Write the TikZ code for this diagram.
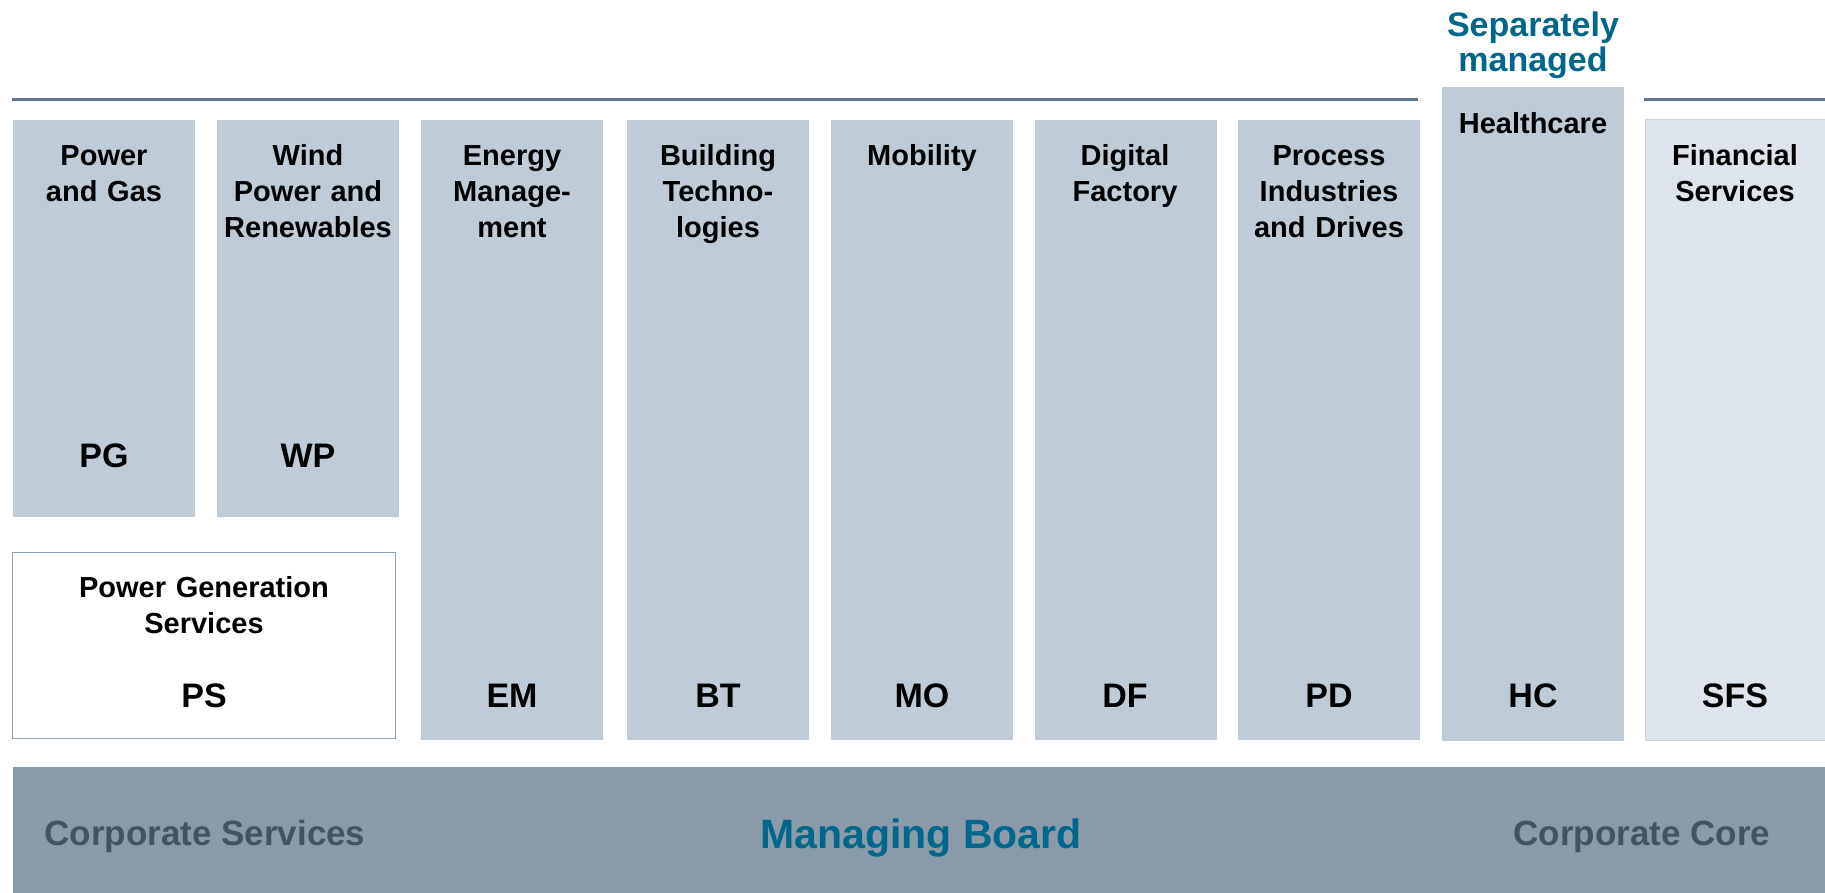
\documentclass[tikz,border=0pt]{standalone}
\usepackage{fontspec}
\setmainfont{Liberation Sans}
\definecolor{unitfill}{HTML}{BFCCD8}
\definecolor{sfsfill}{HTML}{DDE4EC}
\definecolor{sfsline}{HTML}{CAD3DE}
\definecolor{boardfill}{HTML}{899AA9}
\definecolor{rulecol}{HTML}{627789}
\definecolor{psline}{HTML}{8FA3B3}
\definecolor{corptext}{HTML}{45535F}
\definecolor{teal}{HTML}{00678A}
\tikzset{
  title/.style={anchor=base,inner sep=0pt,text width=200pt,align=center,
    font=\fontsize{29}{36}\selectfont\bfseries},
  abbr/.style={anchor=base,inner sep=0pt,font=\fontsize{34}{40}\selectfont\bfseries},
  corp/.style={anchor=base,inner sep=0pt,text=corptext,font=\fontsize{35}{40}\selectfont\bfseries}
}
\begin{document}
\begin{tikzpicture}[x=1pt,y=-1pt]
  \useasboundingbox[fill=white] (0,0) rectangle (1825,892);
  \begin{scope}
    \tikzstyle{every node}=[fill=unitfill,inner sep=0pt,minimum width=182pt]
    \node[minimum height=397pt] (PG) at (104,318.5) {};
    \node[minimum height=397pt] (WP) at (308,318.5) {};
    \node[minimum height=620pt] (EM) at (512,430) {};
    \node[minimum height=620pt] (BT) at (718,430) {};
    \node[minimum height=620pt] (MO) at (922,430) {};
    \node[minimum height=620pt] (DF) at (1125.5,430) {};
    \node[minimum height=620pt] (PD) at (1329,430) {};
    \node[minimum height=654pt] (HC) at (1533,414) {};
    \node[fill=sfsfill,draw=sfsline,line width=1.5pt,minimum width=181pt,
      minimum height=621pt] (SFS) at (1736,430) {};
    \node[fill=white,draw=psline,line width=1.5pt,minimum width=383pt,
      minimum height=186pt] (PS) at (204,645.5) {};
    \node[fill=boardfill,minimum width=1815pt,minimum height=126pt] (board) at (920.5,830) {};
  \end{scope}
  \coordinate (r1) at (12,99);
  \coordinate (r2) at (1418,99);
  \coordinate (r3) at (1644,99);
  \coordinate (r4) at (1825,99);
  \draw[rulecol,line width=3pt] (r1) -- (r2);
  \draw[rulecol,line width=3pt] (r3) -- (r4);

  \node[title] (PGt) at (104,165) {Power\\and Gas};
  \node[title] (WPt) at (308,165) {Wind\\Power and\\Renewables};
  \node[title] (EMt) at (512,165) {Energy\\Manage-\\ment};
  \node[title] (BTt) at (718,165) {Building\\Techno-\\logies};
  \node[title] (MOt) at (922,165) {Mobility};
  \node[title] (DFt) at (1125,165) {Digital\\Factory};
  \node[title] (PDt) at (1329,165) {Process\\Industries\\and Drives};
  \node[title] (HCt) at (1533,133) {Healthcare};
  \node[title] (SFSt) at (1735,165) {Financial\\Services};
  \node[title,text width=380pt] (PSt) at (204,597) {Power Generation\\Services};

  \node[abbr] (PGa) at (104,467) {PG};
  \node[abbr] (WPa) at (308,467) {WP};
  \node[abbr] (PSa) at (204,707) {PS};
  \node[abbr] (EMa) at (512,707) {EM};
  \node[abbr] (BTa) at (718,707) {BT};
  \node[abbr] (MOa) at (922,707) {MO};
  \node[abbr] (DFa) at (1125,707) {DF};
  \node[abbr] (PDa) at (1329,707) {PD};
  \node[abbr] (HCa) at (1533,707) {HC};
  \node[abbr] (SFSa) at (1735,707) {SFS};

  \node[title,text=teal,font=\fontsize{34}{35}\selectfont\bfseries] (sep) at (1533,36) {Separately\\managed};
  \node[corp] (cs) at (205,845) {Corporate Services};
  \node[corp,text=teal,font=\fontsize{41}{46}\selectfont\bfseries] (mb) at (921,848) {Managing Board};
  \node[corp] (cc) at (1642,845) {Corporate Core};
\end{tikzpicture}
\end{document}
